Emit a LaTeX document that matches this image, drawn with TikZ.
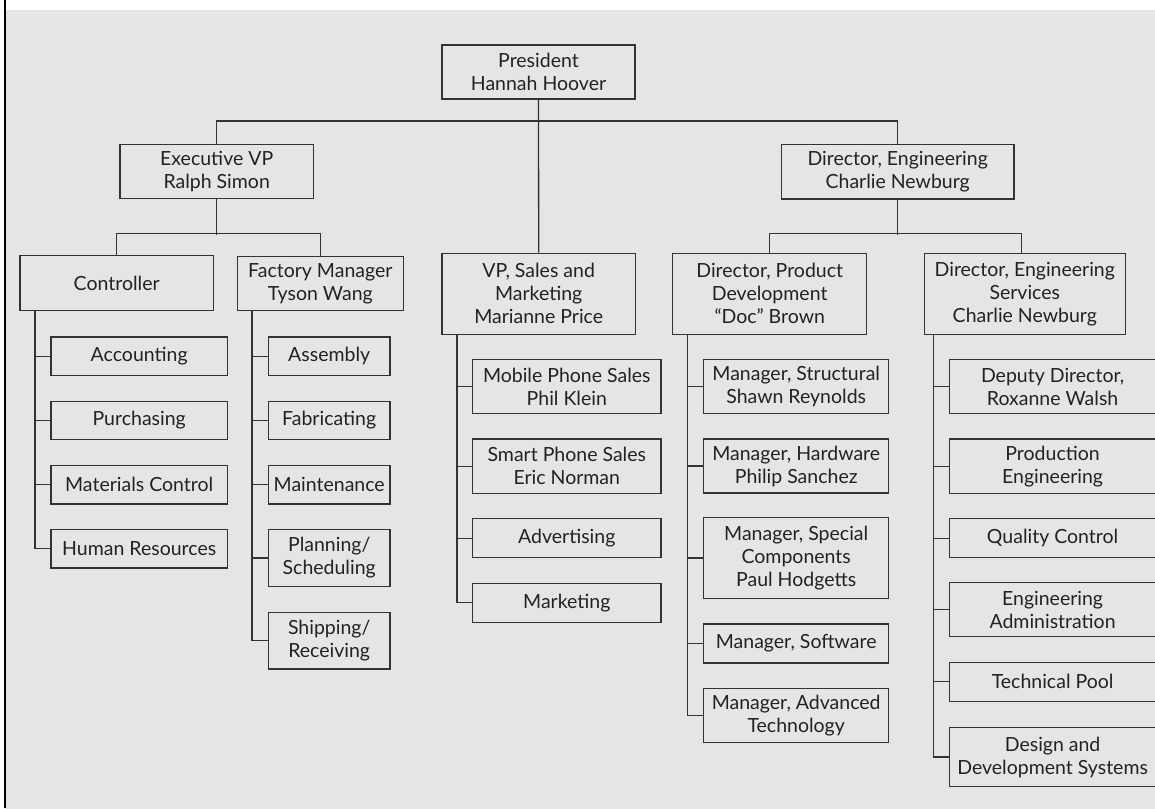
\documentclass[tikz,border=0pt]{standalone}
\usepackage{fontspec}
\setmainfont{Lato}
\definecolor{panel}{HTML}{E5E5E5}
\definecolor{ink}{HTML}{222222}
\definecolor{rule}{HTML}{333333}
\tikzset{
  box/.style={draw=rule, line width=1.3pt, inner sep=0pt, align=center,
    text=ink, font=\fontsize{19.5}{23}\selectfont},
  link/.style={draw=rule, line width=1.3pt},
}
\newcommand{\orgbox}[6]{% name, cx, cy, w, h, text
  \node[box, minimum width=#4pt, minimum height=#5pt] (#1) at (#2,#3) {#6};}
\begin{document}
\begin{tikzpicture}[x=1pt, y=-1pt]
\useasboundingbox (0,0) rectangle (1155,808);
% panel and left rule
\fill[panel] (5,10) rectangle (1160,812);
\draw[black, line width=2pt] (5,0) -- (5,808);

% top levels
\orgbox{pres}{538.5}{72}{193}{54}{President\\Hannah Hoover}
\orgbox{evp}{216.7}{171.5}{193.3}{54.4}{Executive VP\\Ralph Simon}
\orgbox{deng}{897.7}{171.7}{232.7}{54.7}{Director, Engineering\\Charlie Newburg}

\orgbox{ctrl}{116.7}{283.3}{193.3}{55}{Controller}
\orgbox{fact}{320.3}{283.6}{166}{54.2}{Factory Manager\\Tyson Wang}
\orgbox{vps}{538.7}{293.8}{193.3}{81}{VP, Sales and\\Marketing\\Marianne Price}
\orgbox{dpd}{769.7}{293.8}{194}{81}{Director, Product\\Development\\“Doc” Brown}
\orgbox{des}{1024.8}{293.8}{201}{81}{Director, Engineering\\Services\\Charlie Newburg}

% controller departments
\orgbox{acc}{139.2}{356.2}{176.3}{38.5}{Accounting}
\orgbox{pur}{139.2}{420.5}{176.3}{38.5}{Purchasing}
\orgbox{mat}{139.2}{484.8}{176.3}{38.5}{Materials Control}
\orgbox{hr}{139.2}{548.6}{176.3}{38.5}{Human Resources}

% factory departments
\orgbox{asm}{329.2}{356.2}{121.7}{38.5}{Assembly}
\orgbox{fab}{329.2}{420.5}{121.7}{38.5}{Fabricating}
\orgbox{mnt}{329.2}{484.8}{121.7}{38.5}{Maintenance}
\orgbox{pln}{329.2}{558}{121.7}{57.4}{Planning/\\Scheduling}
\orgbox{shp}{329.2}{640.6}{121.7}{56.7}{Shipping/\\Receiving}

% sales and marketing
\orgbox{mob}{566.8}{386.5}{188.3}{54.4}{Mobile Phone Sales\\Phil Klein}
\orgbox{sma}{566.8}{466.2}{188.3}{54.3}{Smart Phone Sales\\Eric Norman}
\orgbox{adv}{566.8}{538.2}{188.3}{39}{Advertising}
\orgbox{mkt}{566.8}{602.8}{188.3}{39}{Marketing}

% product development
\orgbox{str}{796.2}{386.5}{185}{54.4}{Manager, Structural\\Shawn Reynolds}
\orgbox{hwd}{796.2}{466}{185}{54}{Manager, Hardware\\Philip Sanchez}
\orgbox{spc}{796.2}{558}{185}{80.6}{Manager, Special\\Components\\Paul Hodgetts}
\orgbox{sfw}{796.2}{643.5}{185}{39}{Manager, Software}
\orgbox{avt}{796.2}{715.3}{185}{54}{Manager, Advanced\\Technology}

% engineering services
\orgbox{dep}{1052.6}{386.5}{206.7}{54.4}{Deputy Director,\\Roxanne Walsh}
\orgbox{prd}{1052.6}{466.2}{206.7}{54.3}{Production\\Engineering}
\orgbox{qc}{1052.6}{538.2}{206.7}{39}{Quality Control}
\orgbox{ea}{1052.6}{609.7}{206.7}{54}{Engineering\\Administration}
\orgbox{tp}{1052.6}{681.8}{206.7}{39}{Technical Pool}
\orgbox{dds}{1052.6}{757}{206.7}{59.4}{Design and\\Development Systems}

% upper connectors
\draw[link] (pres.south) -- (vps.north);
\draw[link] (evp.north) -- ++(0,-22.6) -| (deng.north);
\draw[link] (evp.south) -- ++(0,35.6);
\draw[link] (ctrl.north) -- ++(0,-21.4) -| (fact.north);
\draw[link] (deng.south) -- ++(0,35.3);
\draw[link] (dpd.north) -- ++(0,-19) -| ([xshift=-3pt]des.north);

% department spines
\draw[link] ([xshift=15.7pt]ctrl.south west) |- (hr.west);
\foreach \n in {acc,pur,mat} \draw[link] (\n.west) -- ++(-15.3,0);
\draw[link] ([xshift=15.4pt]fact.south west) |- (shp.west);
\foreach \n in {asm,fab,mnt,pln} \draw[link] (\n.west) -- ++(-15.6,0);
\draw[link] ([xshift=15.7pt]vps.south west) |- (mkt.west);
\foreach \n in {mob,sma,adv} \draw[link] (\n.west) -- ++(-15,0);
\draw[link] ([xshift=15.6pt]dpd.south west) |- (avt.west);
\foreach \n in {str,hwd,spc,sfw} \draw[link] (\n.west) -- ++(-15.4,0);
\draw[link] ([xshift=9.7pt]des.south west) |- (dds.west);
\foreach \n in {dep,prd,qc,ea,tp} \draw[link] (\n.west) -- ++(-15.3,0);
\end{tikzpicture}
\end{document}
